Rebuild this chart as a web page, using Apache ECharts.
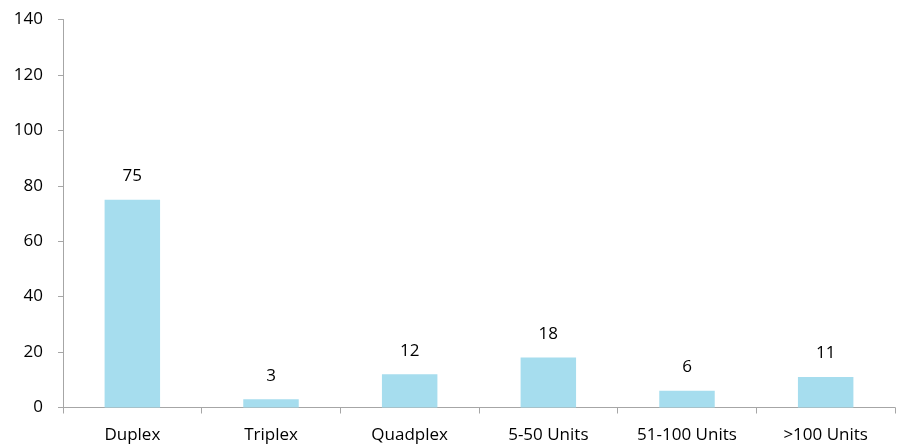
<!DOCTYPE html>
<html>
<head>
<meta charset="utf-8">
<script src="https://cdn.jsdelivr.net/npm/echarts@6/dist/echarts.min.js"></script>
<style>
  html, body { margin: 0; padding: 0; background: #fff; }
  #chart { width: 900px; height: 448px; }
</style>
</head>
<body>
<div id="chart"></div>
<script>
const categories = ['Duplex', 'Triplex', 'Quadplex', '5-50 Units', '51-100 Units', '>100 Units']
const counts = [75, 3, 12, 18, 6, 11]

const fontFamily = '"Open Sans", "Liberation Sans", sans-serif'
const axisColor = '#a6a6a6'

const chart = echarts.init(document.getElementById('chart'))

chart.setOption({
  animation: false,
  grid: { left: 63, right: 5, top: 19.5, bottom: 40.5, containLabel: false },
  xAxis: {
    type: 'category',
    data: categories,
    axisLine: { lineStyle: { color: axisColor } },
    axisTick: { show: true, alignWithLabel: false, length: 6, lineStyle: { color: axisColor } },
    axisLabel: { color: '#000', fontFamily, fontSize: 17, margin: 19 }
  },
  yAxis: {
    type: 'value',
    min: 0,
    max: 140,
    interval: 20,
    axisLine: { show: true, lineStyle: { color: axisColor } },
    axisTick: { show: true, length: 5, lineStyle: { color: axisColor } },
    splitLine: { show: false },
    axisLabel: { color: '#000', fontFamily, fontSize: 17, margin: 20 }
  },
  series: [{
    type: 'bar',
    data: counts,
    barWidth: '40%',
    itemStyle: { color: '#a6ddee' },
    label: {
      show: true,
      position: 'top',
      distance: 15,
      color: '#000',
      fontFamily,
      fontSize: 17
    }
  }]
})
</script>
</body>
</html>
